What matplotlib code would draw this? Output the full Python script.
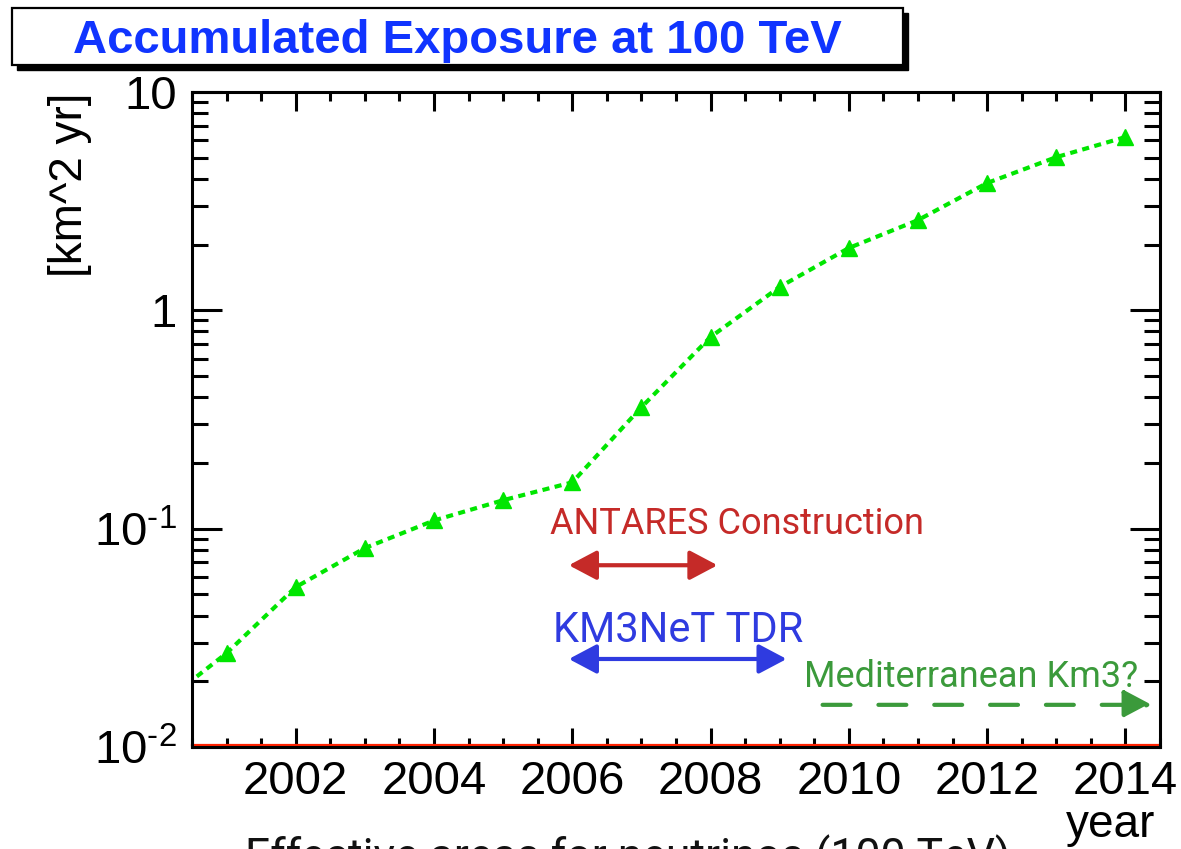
import matplotlib
matplotlib.use("Agg")
import matplotlib.pyplot as plt
from matplotlib.patches import Rectangle, FancyArrowPatch
from matplotlib.ticker import FixedLocator, MultipleLocator, LogLocator, NullFormatter
import matplotlib.transforms as mtransforms

plt.rcParams['font.family'] = ['Liberation Sans', 'DejaVu Sans']
plt.rcParams['mathtext.fontset'] = 'custom'
plt.rcParams['mathtext.rm'] = 'Liberation Sans'

# accumulated exposure per year, km^2 yr
years = [2000, 2001, 2002, 2003, 2004, 2005, 2006, 2007,
         2008, 2009, 2010, 2011, 2012, 2013, 2014]
exposure = [0.0152, 0.0269, 0.054, 0.0815, 0.109, 0.135, 0.163, 0.36,
            0.755, 1.28, 1.93, 2.59, 3.83, 5.03, 6.22]

# project periods (start year, end year)
antares_period = [2005.95, 2008.1]
tdr_period = [2005.95, 2009.1]
med_period = [2009.62, 2014.38]

x_ticks = [2002, 2004, 2006, 2008, 2010, 2012, 2014]
y_ticks = [0.01, 0.1, 1, 10]
y_ticklabels = [r'$\mathregular{10^{\text{-}2}}$', r'$\mathregular{10^{\text{-}1}}$', '1', '10']

W, H = 1181, 849
fig = plt.figure(figsize=(W / 100, H / 100), dpi=100)
fig.patch.set_facecolor('white')

def px(x0, y0, x1, y1):
    return [x0 / W, 1 - y1 / H, (x1 - x0) / W, (y1 - y0) / H]

ax = fig.add_axes(px(192, 92, 1160, 747))
ax.set_yscale('log')
ax.set_xlim(2000.5, 2014.5)
ax.set_ylim(0.01, 10)

green = '#00e600'
ax.plot(years, exposure, color=green, lw=3, linestyle=(0, (1.7, 1.3)),
        marker='^', markersize=12, markerfacecolor=green,
        markeredgecolor=green, zorder=3)

# red baseline just above the bottom frame
base = mtransforms.offset_copy(ax.transData, fig=fig, x=0, y=2, units='dots')
ax.plot([2000.5, 2014.5], [0.01, 0.01], color='#ff2200', lw=1.6,
        transform=base, zorder=4, clip_on=False)

for s in ax.spines.values():
    s.set_linewidth(2.2)
    s.set_zorder(5)

ax.xaxis.set_major_locator(FixedLocator(x_ticks))
ax.xaxis.set_minor_locator(MultipleLocator(0.5))
ax.set_xticklabels([str(y) for y in x_ticks])
ax.yaxis.set_major_locator(FixedLocator(y_ticks))
ax.yaxis.set_minor_locator(LogLocator(base=10, subs=range(2, 10)))
ax.yaxis.set_minor_formatter(NullFormatter())
ax.set_yticklabels(y_ticklabels)

ax.tick_params(axis='both', which='both', direction='in', top=True, right=True,
               width=2.2, labelsize=34, colors='black')
ax.tick_params(axis='x', which='major', length=13.5, pad=9)
ax.tick_params(axis='x', which='minor', length=6.5)
ax.tick_params(axis='y', which='major', length=21.5, pad=11)
ax.tick_params(axis='y', which='minor', length=11.5)

# period arrows
red = '#c52a28'
blue = '#2f3be0'
dkgreen = '#3b9a3b'

def period_arrow(span, y, color, style, ls='-'):
    a = FancyArrowPatch((span[0], y), (span[1], y), arrowstyle=style,
                        mutation_scale=1, color=color, lw=3, linestyle=ls,
                        shrinkA=0, shrinkB=0, zorder=4)
    ax.add_patch(a)

period_arrow(antares_period, 0.068, red,
             '<|-|>,head_length=17,head_width=9')
period_arrow(tdr_period, 0.0253, blue,
             '<|-|>,head_length=17,head_width=9')
period_arrow(med_period, 0.0156, dkgreen,
             '-|>,head_length=17,head_width=9', ls=(0, (6.7, 6.7)))

ann_font = dict(family=['Roboto', 'Liberation Sans'], weight='normal')
fig.text(737 / W, 1 - 534 / H, 'ANTARES Construction', color=red,
         fontsize=26, ha='center', va='baseline', **ann_font)
fig.text(678 / W, 1 - 642 / H, 'KM3NeT TDR', color=blue,
         fontsize=30, ha='center', va='baseline', **ann_font)
fig.text(971 / W, 1 - 687 / H, 'Mediterranean Km3?', color=dkgreen,
         fontsize=26, ha='center', va='baseline', **ann_font)

# axis titles
fig.text(70 / W, 1 - 185 / H, '[km^2 yr]', rotation=90, fontsize=33,
         ha='center', va='center')
fig.text(1155 / W, 1 - 837 / H, 'year', fontsize=33, ha='right', va='baseline')

# caption running off the bottom edge
fig.text(245 / W, 1 - 871 / H, 'Effective areas for neutrinos (100 TeV)',
         fontsize=32, ha='left', va='baseline', color='#111111', **ann_font)

# title pave with shadow
fig.patches.append(Rectangle((17 / W, 1 - 70 / H), 891 / W, 57 / H,
                             transform=fig.transFigure, facecolor='black',
                             edgecolor='black', zorder=1))
fig.patches.append(Rectangle((12 / W, 1 - 65 / H), 891 / W, 57 / H,
                             transform=fig.transFigure, facecolor='white',
                             edgecolor='black', lw=1.6, zorder=2))
fig.text(457 / W, 1 - 53 / H, 'Accumulated Exposure at 100 TeV',
         color='#1034ff', fontsize=34, weight='bold', ha='center',
         va='baseline', zorder=3)

fig.savefig('out.png', dpi=100)
